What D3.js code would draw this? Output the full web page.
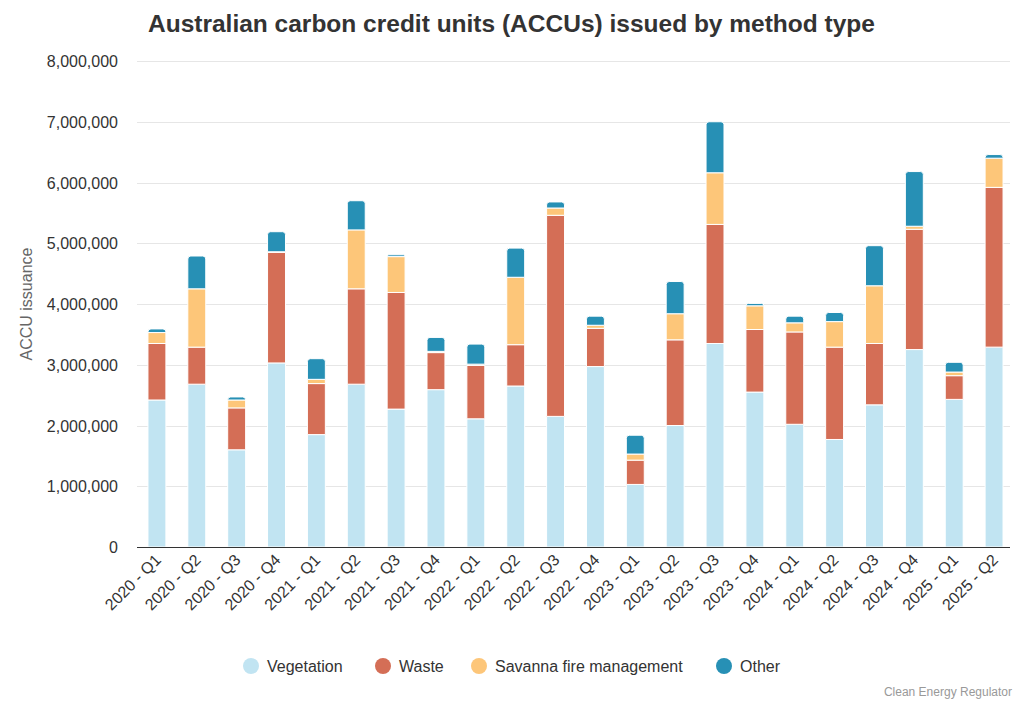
<!DOCTYPE html>
<html><head><meta charset="utf-8">
<script src="https://cdn.jsdelivr.net/npm/d3@7"></script>
<style>body{margin:0;background:#fff;font-family:"Liberation Sans",Arial,sans-serif}</style>
</head><body><svg id="c" width="1024" height="704"></svg>
<script>
const categories=["2020 - Q1","2020 - Q2","2020 - Q3","2020 - Q4","2021 - Q1","2021 - Q2","2021 - Q3","2021 - Q4","2022 - Q1","2022 - Q2","2022 - Q3","2022 - Q4","2023 - Q1","2023 - Q2","2023 - Q3","2023 - Q4","2024 - Q1","2024 - Q2","2024 - Q3","2024 - Q4","2025 - Q1","2025 - Q2"];
const vegetation=[2420000,2680000,1600000,3030000,1850000,2680000,2270000,2590000,2110000,2650000,2150000,2970000,1030000,2000000,3350000,2550000,2020000,1770000,2340000,3250000,2430000,3290000];
const waste=[930000,610000,690000,1820000,840000,1570000,1920000,610000,880000,680000,3310000,630000,400000,1410000,1960000,1030000,1520000,1520000,1010000,1980000,390000,2630000];
const savanna=[180000,960000,130000,10000,70000,970000,590000,20000,20000,1110000,120000,50000,100000,430000,850000,390000,150000,420000,950000,50000,60000,480000];
const other=[60000,540000,50000,330000,340000,480000,30000,230000,330000,480000,100000,150000,310000,530000,840000,40000,110000,150000,660000,900000,160000,60000];
const seriesNames=["Vegetation","Waste","Savanna fire management","Other"];
const colors=["#c1e4f2","#d46e56","#fdc679","#2790b5"];
const yTicks=[0,1000000,2000000,3000000,4000000,5000000,6000000,7000000,8000000];

const svg=d3.select("#c");
const M={l:137,r:1014,t:61,b:547};
const x=d3.scaleBand().domain(categories).range([M.l,M.r]).paddingInner(0.55).paddingOuter(0.275);
const y=d3.scaleLinear().domain([0,8000000]).range([M.b,M.t]);
const rows=categories.map((c,i)=>({cat:c,Vegetation:vegetation[i],Waste:waste[i],"Savanna fire management":savanna[i],Other:other[i]}));
const stack=d3.stack().keys(seriesNames)(rows);

svg.append("text").attr("x",148).attr("y",32).attr("font-size",24.5).attr("font-weight","bold").attr("fill","#333").text("Australian carbon credit units (ACCUs) issued by method type");

svg.append("g").selectAll("line").data(yTicks.slice(1)).join("line")
 .attr("x1",M.l).attr("x2",M.r-4).attr("y1",d=>Math.round(y(d))+0.5).attr("y2",d=>Math.round(y(d))+0.5).attr("stroke","#e6e6e6");
svg.append("g").selectAll("text").data(yTicks).join("text")
 .attr("x",118).attr("y",d=>y(d)+6).attr("text-anchor","end").attr("font-size",16).attr("fill","#333")
 .text(d=>d3.format(",")(d));
svg.append("text").attr("transform","translate(32,304) rotate(-90)").attr("text-anchor","middle").attr("font-size",16).attr("fill","#666").text("ACCU issuance");

const bw=x.bandwidth(), r=3;
stack.forEach((s,si)=>{
 svg.append("g").selectAll("path").data(s).join("path")
  .attr("fill",colors[si]).attr("stroke","#fff").attr("stroke-width",1)
  .attr("d",(d,i)=>{
    const x0=x(categories[i]),y0=y(d[0]),y1=y(d[1]),h=y0-y1;
    const top=si===3;
    const rr=top?Math.min(r,h):0;
    return `M${x0},${y0}V${y1+rr}Q${x0},${y1} ${x0+rr},${y1}H${x0+bw-rr}Q${x0+bw},${y1} ${x0+bw},${y1+rr}V${y0}Z`;
  });
});
svg.append("line").attr("x1",M.l).attr("x2",M.r-4).attr("y1",M.b+0.5).attr("y2",M.b+0.5).attr("stroke","#333").attr("stroke-width",1);

svg.append("g").selectAll("text").data(categories).join("text")
 .attr("transform",d=>`translate(${x(d)+bw/2+5},${M.b+14}) rotate(-45)`)
 .attr("text-anchor","end").attr("font-size",16).attr("fill","#333").text(d=>d);

const lx=[251,383,479,724];
const lg=svg.append("g").selectAll("g").data(seriesNames).join("g").attr("transform",(d,i)=>`translate(${lx[i]},666)`);
lg.append("circle").attr("r",8).attr("fill",(d,i)=>colors[i]);
lg.append("text").attr("x",16).attr("y",6).attr("font-size",16).attr("fill","#333").text(d=>d);

svg.append("text").attr("x",1012).attr("y",696).attr("text-anchor","end").attr("font-size",12).attr("fill","#999").text("Clean Energy Regulator");
</script></body></html>
